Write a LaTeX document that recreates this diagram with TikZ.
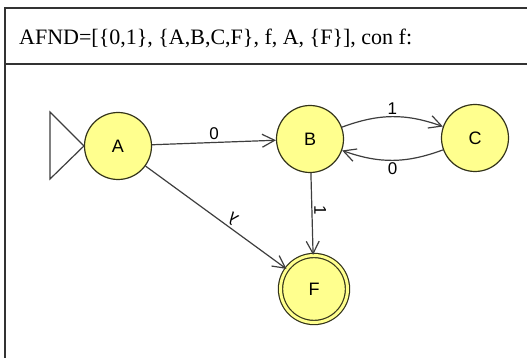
\documentclass[tikz,border=0pt]{standalone}
\usepackage{fontspec}
\setmainfont{Liberation Serif}
\setsansfont{Liberation Sans}
\usetikzlibrary{arrows.meta,positioning}
\definecolor{StateFill}{HTML}{FFFF8E}
\definecolor{StateLine}{HTML}{33331A}
\definecolor{EdgeLine}{HTML}{3E3E3E}
\definecolor{RuleLine}{HTML}{333333}

\begin{document}
\begin{tikzpicture}[x=1pt,y=-1pt]
    \tikzset{st/.style={circle,draw=StateLine,line width=1.2pt,fill=StateFill,minimum size=67pt,inner sep=0pt,font=\sffamily\fontsize{18}{18}\selectfont},
      fin/.style={st,double=StateFill,double distance=3pt},
      tr/.style={draw=EdgeLine,line width=1.2pt,-{Straight Barb[angle=55:14pt]}},
      lbl/.style={font=\sffamily\fontsize{17}{17}\selectfont,inner sep=2pt}}
    \useasboundingbox (0,0) rectangle (527,358);
    % table frame
    \draw[RuleLine,line width=1.6pt] (5,358) -- (5,8) -- (527,8);
    \draw[RuleLine,line width=1.6pt] (5,64) -- (527,64);
    \node[anchor=base west,font=\fontsize{22}{22}\selectfont,inner sep=0pt] (title) at (19,45) {AFND=[\{0,1\}, \{A,B,C,F\}, f, A, \{F\}], con f:};
    % states
    \node[st] (A) at (118,146) {A};
    \node[st] (B) at (310,139) {B};
    \node[st] (C) at (475,138) {C};
    \node[fin] (F) at (314,289) {F};
    % initial marker
    \draw[EdgeLine,line width=1.2pt] (A.west) -- (50,112) -- (50,179) -- cycle;
    % transitions
    \draw[tr] (A) -- node[lbl,above] {0} (B);
    \draw[tr] (B) to[bend left=20] node[lbl,above] {1} (C);
    \draw[tr] (C) to[bend left=20] node[lbl,below] {0} (B);
    \draw[tr] (B) -- node[lbl,rotate=-90,anchor=south,pos=0.45] {1} (F);
    \draw[tr] (A) -- node[lbl,sloped,above,pos=0.58] {\rotatebox{180}{λ}} (F);
  \end{tikzpicture}
\end{document}
